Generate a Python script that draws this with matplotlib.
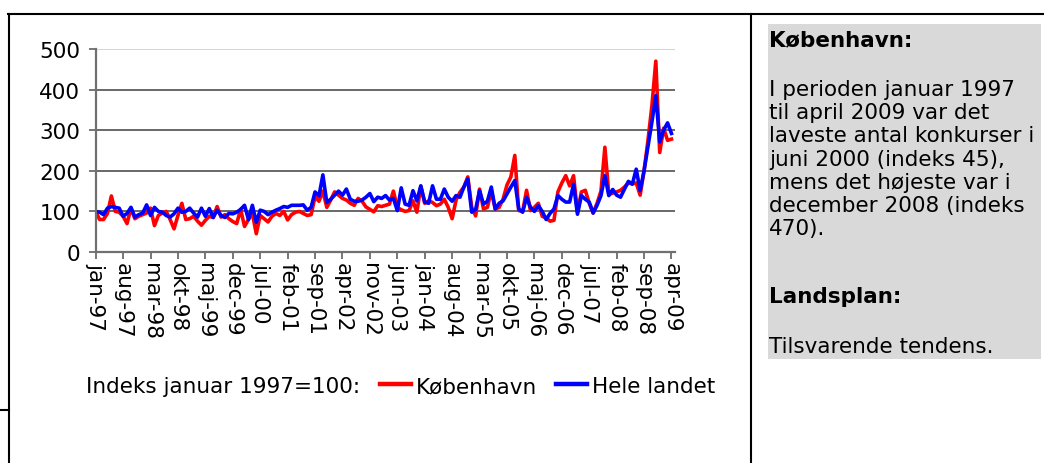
import matplotlib.pyplot as plt
from matplotlib.lines import Line2D
from matplotlib.patches import Rectangle

# monthly index, jan-97 .. apr-09 (jan 1997 = 100)
kbh = [100, 80, 80, 95, 138, 100, 98, 88, 70, 108,
       82, 88, 92, 96, 108, 65, 90, 96, 100, 80,
       57, 90, 120, 80, 82, 88, 76, 66, 78, 88,
       85, 112, 86, 92, 82, 75, 70, 105, 63, 80,
       95, 45, 90, 82, 74, 88, 95, 90, 100, 79,
       92, 98, 100, 95, 90, 92, 136, 125, 150, 110,
       128, 148, 140, 132, 128, 120, 115, 132, 125, 111,
       105, 99, 114, 112, 115, 118, 150, 110, 104, 100,
       102, 126, 98, 162, 120, 126, 122, 114, 118, 130,
       110, 82, 128, 147, 160, 185, 110, 89, 155, 106,
       110, 150, 106, 110, 130, 165, 185, 238, 102, 100,
       152, 102, 110, 120, 88, 84, 76, 78, 148, 170,
       188, 163, 188, 98, 148, 152, 120, 96, 120, 150,
       258, 142, 145, 148, 152, 160, 170, 168, 170, 140,
       200, 275, 360, 470, 245, 305, 275, 278]

hele_landet = [100, 98, 92, 108, 112, 110, 108, 88, 95, 110,
               86, 92, 96, 116, 90, 110, 100, 98, 90, 86,
               94, 108, 98, 100, 108, 96, 86, 108, 88, 107,
               85, 103, 90, 85, 95, 94, 98, 105, 115, 80,
               115, 73, 103, 100, 92, 98, 103, 107, 112, 110,
               115, 115, 115, 116, 103, 110, 148, 138, 190, 122,
               130, 140, 150, 140, 155, 130, 125, 125, 128, 135,
               144, 124, 135, 132, 139, 128, 132, 102, 158, 118,
               115, 151, 126, 163, 123, 120, 163, 130, 130, 155,
               135, 125, 139, 135, 160, 180, 98, 105, 151, 118,
               125, 160, 106, 120, 126, 143, 160, 176, 106, 98,
               135, 110, 100, 114, 100, 80, 95, 106, 139, 130,
               123, 123, 167, 93, 139, 130, 123, 96, 115, 139,
               188, 139, 154, 140, 135, 155, 174, 167, 204, 151,
               200, 260, 320, 385, 271, 300, 318, 292]

tick_labels = ['jan-97', 'aug-97', 'mar-98', 'okt-98', 'maj-99', 'dec-99',
               'jul-00', 'feb-01', 'sep-01', 'apr-02', 'nov-02', 'jun-03',
               'jan-04', 'aug-04', 'mar-05', 'okt-05', 'maj-06', 'dec-06',
               'jul-07', 'feb-08', 'sep-08', 'apr-09']

box_lines = [
    ('København:', 'bold', 40),
    ('I perioden januar 1997', 'normal', 90),
    ('til april 2009 var det', 'normal', 113),
    ('laveste antal konkurser i', 'normal', 136),
    ('juni 2000 (indeks 45),', 'normal', 160),
    ('mens det højeste var i', 'normal', 183),
    ('december 2008 (indeks', 'normal', 206),
    ('470).', 'normal', 229),
    ('Landsplan:', 'bold', 297),
    ('Tilsvarende tendens.', 'normal', 347),
]

W, H = 1044, 464
FS = 15.5
plt.rcParams['font.family'] = ['DejaVu Sans']


def fx(x):
    return x / W


def fy(y):
    return 1 - y / H


fig = plt.figure(figsize=(W / 100, H / 100), dpi=100)

# table frame around chart and text
for (x0, y0, x1, y1) in [(8, 15, 1044, 15), (9, 15, 9, 464), (751, 15, 751, 464), (0, 411, 9, 411)]:
    fig.add_artist(Line2D([fx(x0), fx(x1)], [fy(y0), fy(y1)], color='black', lw=1.5))

ax = fig.add_axes([fx(95.7), fy(253), fx(675 - 95.7), 203 / H])
x = list(range(len(kbh)))
ax.plot(x, kbh, color='#ff0000', lw=2.6, label='København', solid_joinstyle='round')
ax.plot(x, hele_landet, color='#0000ff', lw=2.6, label='Hele landet', solid_joinstyle='round')

ax.set_xlim(0, 147.9)
ax.set_ylim(0, 500)
ax.set_yticks(range(0, 501, 100))
ax.set_xticks(range(0, len(kbh), 7))
ax.set_xticklabels(tick_labels, rotation=270, ha='center', va='top', fontsize=FS)
ax.tick_params(axis='y', labelsize=FS, length=5, width=1.2, color='#606060', pad=6)
ax.tick_params(axis='x', length=5, width=1.2, color='#606060', pad=2)
ax.grid(axis='y', color='#404040', lw=1.1)
ax.get_ygridlines()[-1].set_color('#c8c8c8')
ax.set_axisbelow(True)
for s in ['top', 'right']:
    ax.spines[s].set_visible(False)
for s in ['left', 'bottom']:
    ax.spines[s].set_color('#707070')
    ax.spines[s].set_linewidth(1.6)

fig.text(fx(86), fy(387), 'Indeks januar 1997=100:', fontsize=FS, va='center')
ax.legend(loc='center left', bbox_to_anchor=(fx(380), fy(387)), bbox_transform=fig.transFigure,
          ncol=2, frameon=False, fontsize=FS, handlelength=1.45, handletextpad=0.2,
          columnspacing=0.9, borderpad=0, borderaxespad=0)
for h in ax.get_legend().get_lines():
    h.set_linewidth(3.2)

# grey text box
fig.add_artist(Rectangle((fx(768), fy(360)), fx(1041 - 768), (360 - 25) / H,
                         transform=fig.transFigure, facecolor='#d9d9d9', edgecolor='none'))
for txt, weight, ypx in box_lines:
    fig.text(fx(769), fy(ypx), txt, fontsize=FS, fontweight=weight, va='center')

fig.savefig('out.png', dpi=100)
